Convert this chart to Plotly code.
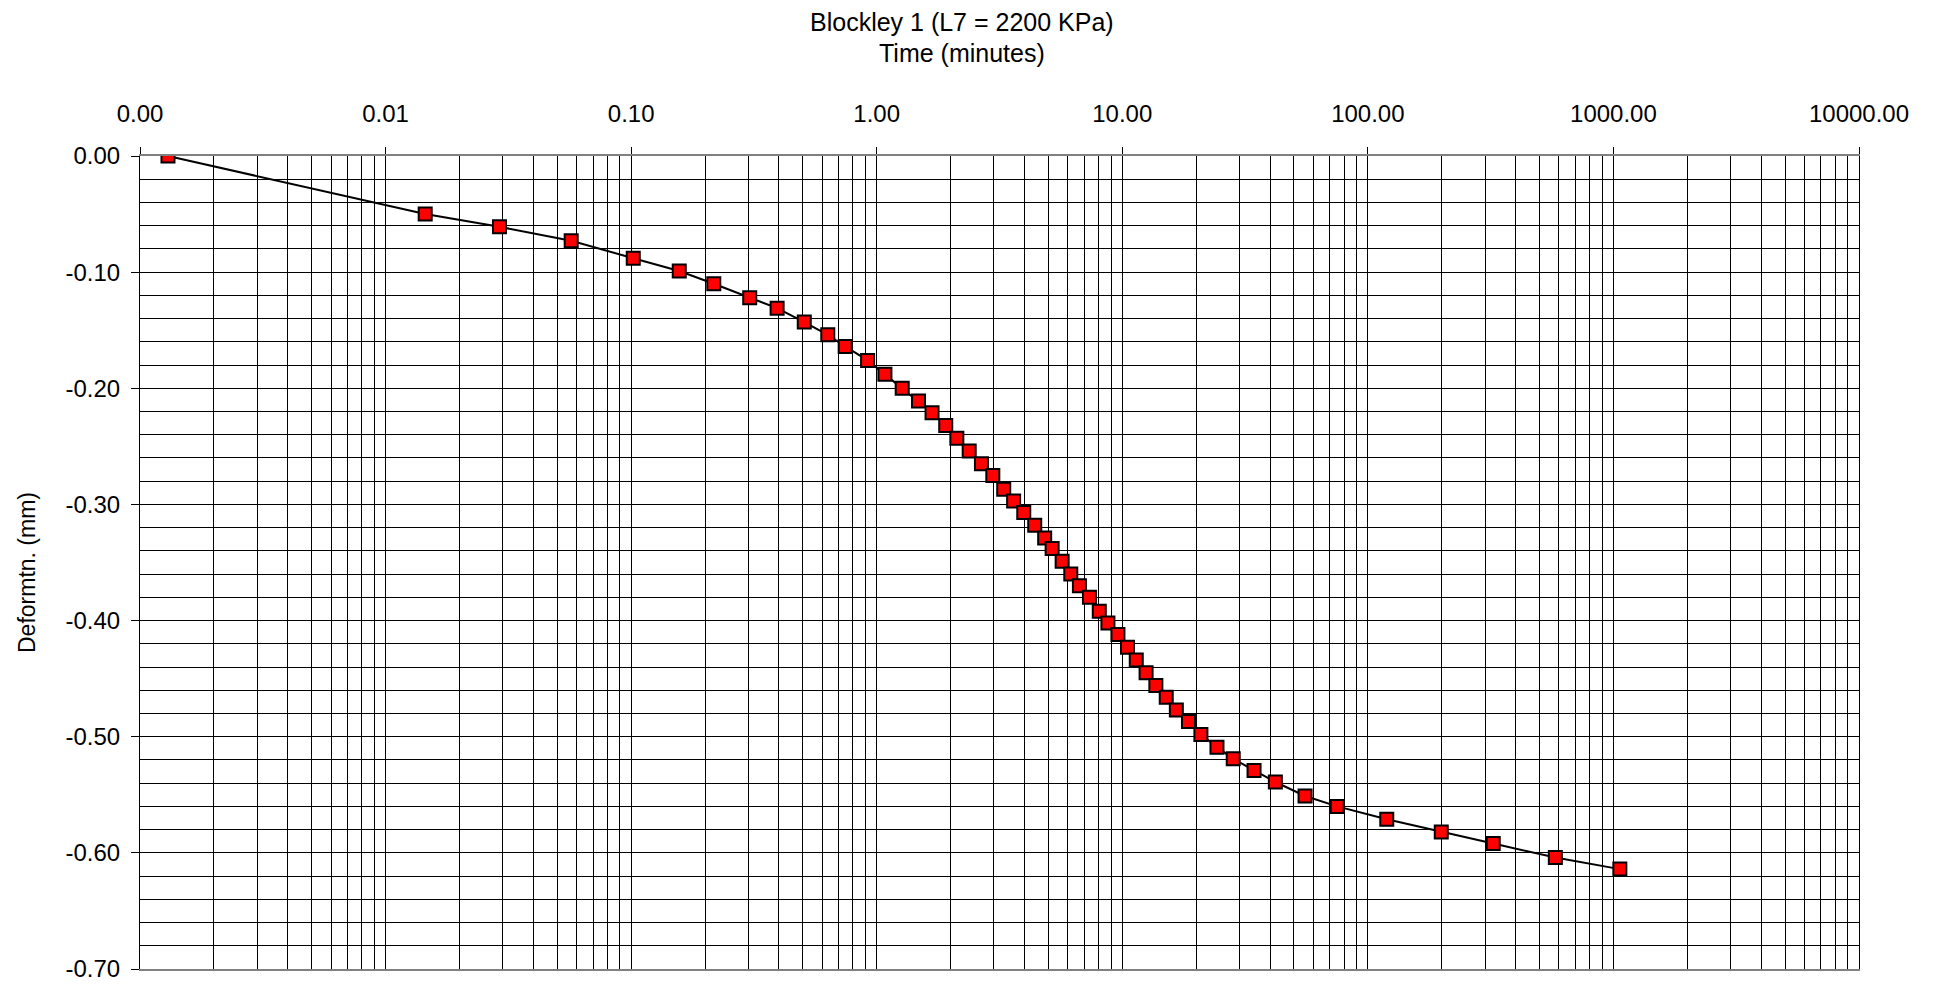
import plotly.graph_objects as go

# Consolidation test readings: elapsed time (minutes) vs settlement (mm)
time_min = [0.0013, 0.0145, 0.0291, 0.057, 0.102, 0.157, 0.217, 0.304, 0.393, 0.507,
            0.632, 0.744, 0.918, 1.08, 1.27, 1.48, 1.68, 1.91, 2.12, 2.38,
            2.67, 2.97, 3.29, 3.61, 3.97, 4.40, 4.83, 5.18, 5.69, 6.17,
            6.69, 7.35, 8.06, 8.74, 9.6, 10.5, 11.4, 12.5, 13.7, 15.1,
            16.6, 18.6, 20.9, 24.3, 28.3, 34.4, 42.0, 55.5, 75.0, 119.4,
            199.0, 324.0, 580.0, 1062.0]
deform_mm = [0.000, -0.050, -0.061, -0.073, -0.088, -0.099, -0.110, -0.122, -0.131, -0.143,
             -0.154, -0.164, -0.176, -0.188, -0.200, -0.211, -0.221, -0.232, -0.243, -0.254,
             -0.265, -0.275, -0.287, -0.297, -0.307, -0.318, -0.329, -0.338, -0.349, -0.360,
             -0.370, -0.380, -0.392, -0.402, -0.412, -0.423, -0.434, -0.445, -0.456, -0.466,
             -0.477, -0.487, -0.498, -0.509, -0.519, -0.529, -0.539, -0.551, -0.560, -0.571,
             -0.582, -0.592, -0.604, -0.614]

x_tick_vals = [0.001, 0.01, 0.1, 1, 10, 100, 1000, 10000]
x_tick_text = ["0.00", "0.01", "0.10", "1.00", "10.00", "100.00", "1000.00", "10000.00"]
y_tick_vals = [0.0, -0.1, -0.2, -0.3, -0.4, -0.5, -0.6, -0.7]
y_tick_text = ["0.00", "-0.10", "-0.20", "-0.30", "-0.40", "-0.50", "-0.60", "-0.70"]

# intermediate log-cycle grid lines (2..9 in every decade)
x_minor_vals = [d * 10.0 ** k for k in range(-3, 4) for d in range(2, 10)]

FONT = "Liberation Sans, Arial, sans-serif"

fig = go.Figure()
fig.add_trace(go.Scatter(
    x=time_min, y=deform_mm, mode="lines+markers",
    line=dict(color="black", width=2),
    marker=dict(symbol="square", size=13, color="#ff0000",
                line=dict(color="black", width=2)),
    showlegend=False,
))

fig.update_layout(
    width=1943, height=984,
    margin=dict(l=140, r=84, t=156, b=15, autoexpand=False),
    paper_bgcolor="white", plot_bgcolor="white",
    font=dict(family=FONT, size=24, color="black"),
    xaxis=dict(
        type="log", side="top", range=[-3, 4], automargin=False,
        tickvals=x_tick_vals, ticktext=x_tick_text,
        ticks="outside", ticklen=7, tickcolor="black", tickwidth=1,
        ticklabelstandoff=15,
        showgrid=True, gridcolor="black", gridwidth=1,
        minor=dict(tickvals=x_minor_vals, showgrid=True, gridcolor="black",
                   gridwidth=1, ticks=""),
        showline=True, linecolor="#808080", linewidth=2, mirror=True,
        zeroline=False,
    ),
    yaxis=dict(
        range=[-0.70, 0.0], automargin=False,
        tickvals=y_tick_vals, ticktext=y_tick_text,
        ticks="outside", ticklen=8, tickcolor="black", tickwidth=1,
        ticklabelstandoff=6,
        showgrid=True, gridcolor="black", gridwidth=1,
        minor=dict(tick0=0, dtick=0.02, showgrid=True, gridcolor="black",
                   gridwidth=1, ticks=""),
        showline=True, linecolor="black", linewidth=1, mirror=True,
        zeroline=False,
    ),
    annotations=[
        dict(text="Blockley 1 (L7 = 2200 KPa)", xref="paper", yref="paper",
             x=0.478, y=1 + (156 - 22) / 813, xanchor="center", yanchor="middle",
             showarrow=False, font=dict(size=25)),
        dict(text="Time (minutes)", xref="paper", yref="paper",
             x=0.478, y=1 + (156 - 53) / 813, xanchor="center", yanchor="middle",
             showarrow=False, font=dict(size=25)),
        dict(text="Deformtn. (mm)", xref="paper", yref="paper",
             x=(27 - 140) / 1719, y=1 - (573 - 156) / 813,
             xanchor="center", yanchor="middle", textangle=-90,
             showarrow=False, font=dict(size=23)),
    ],
)

fig.write_html("out.html")
